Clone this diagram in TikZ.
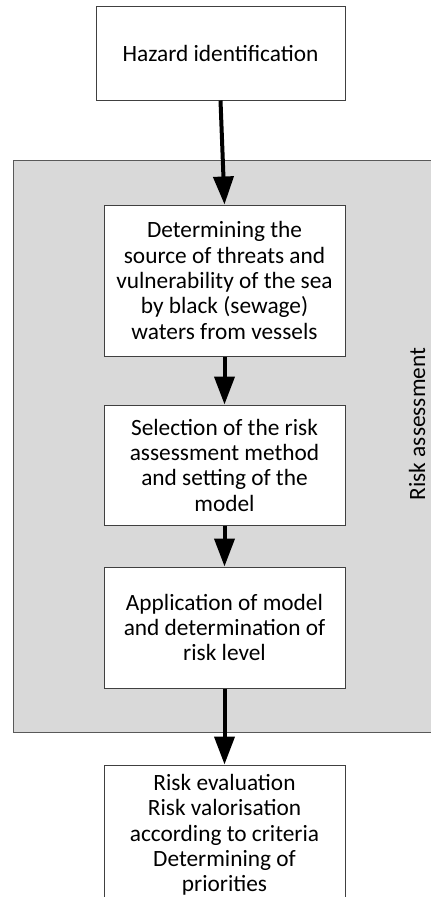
\documentclass[tikz,border=0pt]{standalone}
\usepackage{fontspec}
\setmainfont{Carlito}
\usetikzlibrary{arrows.meta}
\begin{document}
\begin{tikzpicture}[x=0.75pt,y=-0.75pt, % pixel grid
	>={Triangle[width=15pt,length=21pt]}, % arrow head style
	every node/.style={font=\fontsize{17.5}{19}\selectfont},
	stepbox/.style={draw=black!75,line width=0.75pt,fill=white,align=center,
		inner sep=0pt,minimum width=180.75pt},
	flow/.style={->,line width=3pt}]
	\useasboundingbox (0,0) rectangle (430,897);
	\draw [draw=black!65,line width=0.75pt,fill=black!15] (13,160) rectangle (440,732);
	\node[stepbox,minimum width=186.75pt,minimum height=70.5pt] (haz) at (220.5,53) {Hazard identification};
	\node[stepbox,minimum height=113.25pt] (src) at (224.5,280.5)
		{Determining the\\source of threats and\\vulnerability of the sea\\by black (sewage)\\waters from vessels};
	\node[stepbox,minimum height=90pt] (sel) at (224.5,465)
		{Selection of the risk\\assessment method\\and setting of the\\model};
	\node[stepbox,minimum height=90.75pt] (app) at (224.5,627.5)
		{Application of model\\and determination of\\risk level};
	\node[stepbox,minimum height=105pt] (eval) at (224.5,835)
		{Risk evaluation\\Risk valorisation\\according to criteria\\Determining of\\priorities};
	\node[rotate=90,inner sep=0pt] (ra) at (417,424) {Risk assessment};
	\draw [flow] (haz.south) -- (src.north);
	\draw [flow] (src) -- (sel);
	\draw [flow] (sel) -- (app);
	\draw [flow] (app) -- (eval);
\end{tikzpicture}
\end{document}
